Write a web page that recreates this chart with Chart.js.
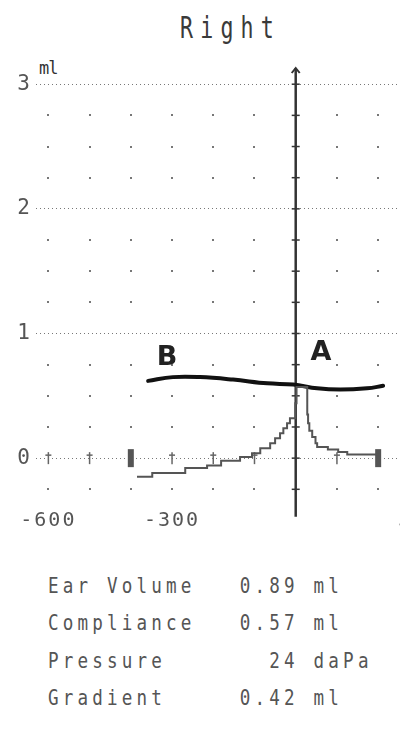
<!DOCTYPE html>
<html>
<head>
<meta charset="utf-8">
<script src="https://cdn.jsdelivr.net/npm/chart.js@4/dist/chart.umd.min.js"></script>
<style>
  html, body { margin: 0; padding: 0; width: 400px; height: 736px; overflow: hidden; background: #fff; }
  #wrap { position: absolute; left: 0; top: 0; width: 440px; height: 540px; }
  .mono { font-family: 'DejaVu Sans Mono', monospace; white-space: pre; position: absolute; transform-origin: left top; }
  #title { left: 180px; top: 13px; font-size: 30px; line-height: 30px; color: #3a3a3a; letter-spacing: 10px; transform: scaleX(0.72); }
  #unit { left: 39px; top: 60px; font-size: 17px; line-height: 17px; color: #333; letter-spacing: -1px; }
  .row { left: 48px; font-size: 22px; line-height: 22px; color: #555; letter-spacing: 5.2px; transform: scaleX(0.8); }
</style>
</head>
<body>
<div id="title" class="mono">Right</div>
<div id="unit" class="mono">ml</div>
<div id="wrap"><canvas id="tymp" width="440" height="540"></canvas></div>
<div id="stats"></div>

<script>
// ── DATA ──────────────────────────────────────────────────────
// measured tympanogram (daPa / ml), step starts
const pressure   = [-385, -348, -268, -215, -181, -135, -106, -86, -62, -50, -38, -30, -21, -14, -1, 2, 28, 30, 33, 40, 48, 52, 78, 103, 125, 200];
const compliance = [-0.15, -0.12, -0.08, -0.06, -0.02, 0.01, 0.04, 0.08, 0.12, 0.16, 0.20, 0.24, 0.28, 0.32, 0.44, 0.57, 0.35, 0.28, 0.22, 0.17, 0.12, 0.09, 0.07, 0.05, 0.03, 0.03];

// hand-drawn line B → A
const handX = [-358, -298, -232, -152, -69, -6, 52, 108, 173, 212];
const handY = [0.62, 0.65, 0.65, 0.63, 0.60, 0.59, 0.56, 0.55, 0.56, 0.58];

const xLabels   = [-600, -300, 0, 300];
const yLabels   = [0, 1, 2, 3];
const dotCols   = [-600, -500, -400, -300, -200, -100, 100, 200, 300];
const dotRows   = [-0.25, 0.25, 0.5, 0.75, 1.25, 1.5, 1.75, 2.25, 2.5, 2.75];
const zeroTicks = [-600, -500, -300, -200, -100, 100];
const rangeBars = [-400, 200];

const statLabels = ['Ear Volume', 'Compliance', 'Pressure', 'Gradient'];
const statValues = ['0.89 ml', '0.57 ml', '  24 daPa', '0.42 ml'];

const notes = [{ text: 'B', x: -312, y: 0.80 }, { text: 'A', x: 61, y: 0.84 }];

// ── STATS TEXT ────────────────────────────────────────────────
const statsEl = document.getElementById('stats');
const rowTops = [575, 612, 650, 687];
statLabels.forEach((l, i) => {
  const d = document.createElement('div');
  d.className = 'mono row';
  d.style.top = rowTops[i] + 'px';
  d.textContent = l.padEnd(13, ' ') + statValues[i];
  statsEl.appendChild(d);
});

// ── DECORATIONS PLUGIN ────────────────────────────────────────
const INK = '#333';
const tympDecor = {
  id: 'tympDecor',
  beforeDraw(chart) {
    chart.ctx.letterSpacing = '2px';
  },
  beforeDatasetsDraw(chart) {
    const { ctx, scales: { x, y } } = chart;
    ctx.save();
    ctx.letterSpacing = '0px';
    // grid dots
    ctx.fillStyle = '#777';
    dotCols.forEach(c => dotRows.forEach(r => {
      ctx.fillRect(Math.round(x.getPixelForValue(c)) - 1, Math.round(y.getPixelForValue(r)) - 1, 2, 2);
    }));
    // ticks on the zero line
    const y0 = y.getPixelForValue(0);
    ctx.strokeStyle = '#666';
    ctx.lineWidth = 1.5;
    zeroTicks.forEach(v => {
      const px = x.getPixelForValue(v);
      ctx.beginPath(); ctx.moveTo(px, y0 - 6); ctx.lineTo(px, y0 + 6); ctx.stroke();
      ctx.beginPath(); ctx.moveTo(px - 3, y0 - 3); ctx.lineTo(px + 3, y0 - 3); ctx.stroke();
    });
    ctx.fillStyle = '#555';
    rangeBars.forEach(v => {
      const px = x.getPixelForValue(v);
      ctx.fillRect(px - 3, y0 - 9, 6, 18);
    });
    // vertical axis at 0 daPa
    const ax = x.getPixelForValue(0);
    const yTop = y.getPixelForValue(3.13), yBot = y.getPixelForValue(-0.47);
    ctx.strokeStyle = INK;
    ctx.lineWidth = 2.5;
    ctx.beginPath(); ctx.moveTo(ax, yTop); ctx.lineTo(ax, yBot); ctx.stroke();
    ctx.lineWidth = 2;
    ctx.beginPath(); ctx.moveTo(ax - 4, yTop + 5); ctx.lineTo(ax, yTop); ctx.lineTo(ax + 4, yTop + 5); ctx.stroke();
    ctx.lineWidth = 1.5;
    for (let v = -0.25; v <= 3.01; v += 0.25) {
      const py = y.getPixelForValue(v);
      ctx.beginPath(); ctx.moveTo(ax - 4, py); ctx.lineTo(ax + 4, py); ctx.stroke();
    }
    ctx.restore();
  },
  afterDatasetsDraw(chart) {
    const { ctx, scales: { x, y } } = chart;
    ctx.save();
    ctx.letterSpacing = '0px';
    ctx.font = 'bold 27px "DejaVu Sans"';
    ctx.fillStyle = '#222';
    ctx.textAlign = 'center';
    ctx.textBaseline = 'middle';
    notes.forEach(n => ctx.fillText(n.text, x.getPixelForValue(n.x), y.getPixelForValue(n.y)));
    ctx.restore();
  },
};

// ── CHART ─────────────────────────────────────────────────────
const tickFont = { family: 'DejaVu Sans Mono', size: 20 };

new Chart(document.getElementById('tymp').getContext('2d'), {
  type: 'line',
  data: {
    datasets: [
      {
        label: 'Tympanogram',
        data: pressure.map((p, i) => ({ x: p, y: compliance[i] })),
        stepped: true,
        borderColor: '#555',
        borderWidth: 2,
        pointRadius: 0,
        fill: false,
      },
      {
        label: 'Hand line',
        data: handX.map((p, i) => ({ x: p, y: handY[i] })),
        borderColor: '#111',
        borderWidth: 4,
        tension: 0.4,
        pointRadius: 0,
        fill: false,
        borderCapStyle: 'round',
      },
    ],
  },
  options: {
    responsive: false,
    animation: false,
    devicePixelRatio: 1,
    layout: { padding: { top: 68, left: 0, right: 0, bottom: 0 } },
    plugins: { legend: { display: false }, tooltip: { enabled: false } },
    scales: {
      x: {
        type: 'linear', min: -630, max: 350,
        afterBuildTicks: s => { s.ticks = xLabels.map(v => ({ value: v })); },
        afterFit: s => { s.height = 32; },
        grid: { display: false },
        border: { display: false },
        ticks: {
          color: '#555', font: tickFont, padding: -7, maxRotation: 0, autoSkip: false,
          callback: v => v === 0 ? '' : String(v),
        },
      },
      y: {
        type: 'linear', min: -0.4, max: 3.13,
        afterBuildTicks: s => { s.ticks = yLabels.map(v => ({ value: v })); },
        afterFit: s => { s.width = 36; },
        grid: { color: '#777', lineWidth: 1, drawTicks: false },
        border: { display: false, dash: [1, 3] },
        ticks: { color: '#555', font: { family: 'DejaVu Sans Mono', size: 21 }, padding: 4 },
      },
    },
  },
  plugins: [tympDecor],
});
</script>
</body>
</html>
